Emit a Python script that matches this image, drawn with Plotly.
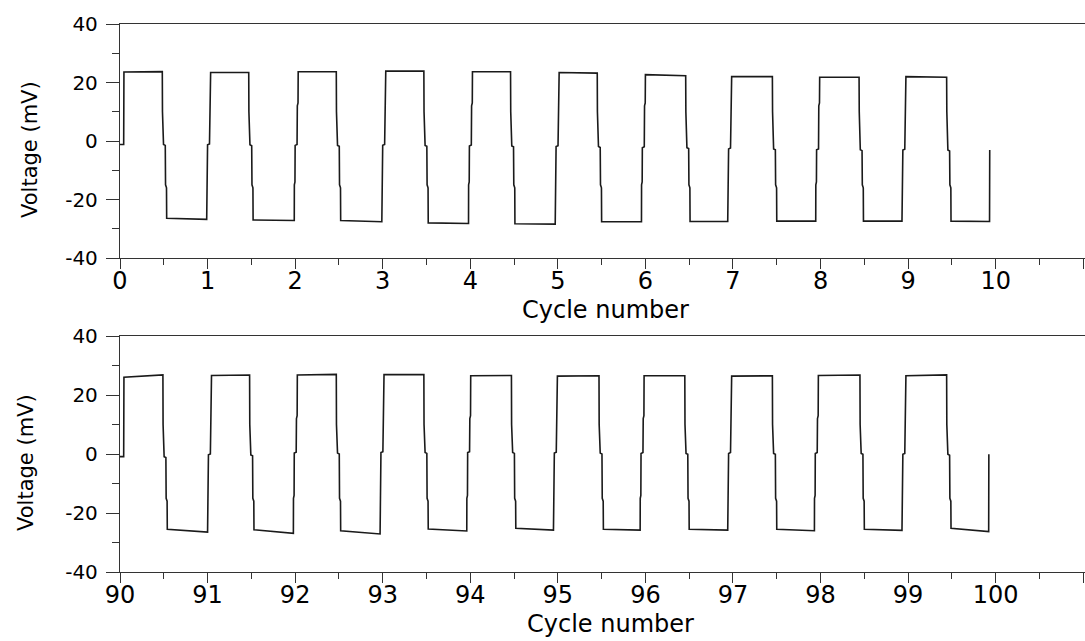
import plotly.graph_objects as go

# ---- top panel: cycles 0-10 ----
top_start = 0.0
top_fall = [0.483, 1.47, 2.47, 3.47, 4.46, 5.45, 6.46, 7.45, 8.44, 9.44]
top_rise = [0.99, 1.99, 2.99, 3.98, 4.97, 5.955, 6.94, 7.945, 8.93, 9.93]
top_high_start = [23.6, 23.4, 23.7, 23.9, 23.7, 23.4, 22.7, 22.0, 21.8, 22.0]
top_high_end = [23.7, 23.4, 23.7, 23.9, 23.7, 23.2, 22.3, 22.0, 21.8, 21.8]
top_low_start = [-26.4, -27.0, -27.2, -28.0, -28.3, -27.6, -27.5, -27.4, -27.4, -27.4]
top_low_end = [-26.8, -27.2, -27.6, -28.2, -28.4, -27.6, -27.5, -27.4, -27.4, -27.5]
top_shelf = [-1.2, -1.3, -1.5, -1.5, -1.7, -1.9, -2.3, -2.7, -3.0, -3.1]

# ---- bottom panel: cycles 90-100 ----
bot_start = 90.0
bot_fall = [90.49, 91.48, 92.47, 93.47, 94.47, 95.47, 96.45, 97.45, 98.45, 99.44]
bot_rise = [91.0, 91.98, 92.97, 93.96, 94.95, 95.94, 96.94, 97.93, 98.93, 99.92]
bot_high_start = [26.0, 26.6, 26.8, 26.9, 26.5, 26.4, 26.5, 26.4, 26.6, 26.5]
bot_high_end = [26.8, 26.8, 27.0, 26.9, 26.6, 26.5, 26.5, 26.5, 26.8, 26.8]
bot_low_start = [-25.5, -25.7, -26.0, -25.4, -25.2, -25.5, -25.5, -25.5, -25.5, -25.2]
bot_low_end = [-26.5, -26.9, -27.1, -26.1, -25.8, -25.8, -25.8, -26.0, -25.9, -26.3]
bot_shelf = [-0.9, -0.3, 0.3, 0.5, 0.5, 0.3, 0.2, 0.2, 0.2, -0.1]

top_ticks = list(range(0, 12))
bot_ticks = list(range(90, 102))
y_ticks = [-40, -20, 0, 20, 40]
y_tick_labels = ["-40", "-20", "0", "20", "40"]


def square_wave(start, fall, rise, hs, he, ls, le, shelf):
    """Polyline of the switching waveform with short shelves at each edge."""
    xs = [start, start + 0.042, start + 0.045]
    ys = [shelf[0], shelf[0], hs[0]]
    n = len(fall)
    for i in range(n):
        f = fall[i]
        k = shelf[i]
        # high plateau end, then falling edge
        xs += [f, f + 0.002, f + 0.014, f + 0.034, f + 0.037, f + 0.048, f + 0.050]
        ys += [he[i], 10, k, k - 0.3, -15, -16, ls[i]]
        r = rise[i]
        xs.append(r)
        ys.append(le[i])
        if i < n - 1:
            k2 = shelf[i + 1]
            xs += [r + 0.001, r + 0.008, r + 0.010, r + 0.032, r + 0.035, r + 0.043, r + 0.045]
            ys += [-15, -14, k2, k2 + 0.3, 12, 13, hs[i + 1]]
        else:
            xs.append(r + 0.002)
            ys.append(shelf[-1])
    return xs, ys


tx, ty = square_wave(top_start, top_fall, top_rise, top_high_start, top_high_end,
                     top_low_start, top_low_end, top_shelf)
bx, by = square_wave(bot_start, bot_fall, bot_rise, bot_high_start, bot_high_end,
                     bot_low_start, bot_low_end, bot_shelf)

W, H = 1085, 641
LINE = "#1a1a1a"
AX = "#333333"
FONT = "DejaVu Sans"

fig = go.Figure()
fig.add_trace(go.Scatter(x=tx, y=ty, mode="lines", line=dict(color=LINE, width=1.6),
                         xaxis="x", yaxis="y", showlegend=False))
fig.add_trace(go.Scatter(x=bx, y=by, mode="lines", line=dict(color=LINE, width=1.6),
                         xaxis="x2", yaxis="y2", showlegend=False))


def xaxis_style(ticks, anchor, rng):
    return dict(
        domain=[120 / W, 1.0], range=rng, anchor=anchor, automargin=False,
        tickmode="array", tickvals=ticks,
        ticktext=[str(t) for t in ticks[:-1]] + [""],
        ticks="outside", ticklen=10, tickwidth=1.3, tickcolor=AX,
        ticklabelstandoff=-9,
        minor=dict(dtick=0.5, ticks="outside", ticklen=6, tickwidth=1.3, tickcolor=AX),
        showline=True, linecolor=AX, linewidth=1.3, mirror=True,
        showgrid=False, zeroline=False,
        tickfont=dict(family=FONT, size=24, color="black"),
    )


def yaxis_style(dom, anchor):
    return dict(
        domain=dom, range=[-40, 40], anchor=anchor, automargin=False,
        tickmode="array", tickvals=y_ticks, ticktext=y_tick_labels,
        ticks="outside", ticklen=13, tickwidth=1.3, tickcolor=AX,
        ticklabelstandoff=4,
        minor=dict(dtick=10, ticks="outside", ticklen=7, tickwidth=1.3, tickcolor=AX),
        showline=True, linecolor=AX, linewidth=1.3, mirror=False,
        showgrid=False, zeroline=False,
        tickfont=dict(family=FONT, size=20, color="black"),
    )


fig.update_layout(
    width=W, height=H,
    margin=dict(l=0, r=0, t=0, b=0, pad=0, autoexpand=False),
    paper_bgcolor="white", plot_bgcolor="white",
    xaxis=xaxis_style(top_ticks, "y", [0, 11.02]),
    yaxis=yaxis_style([1 - 258 / H, 1 - 24 / H], "x"),
    xaxis2=xaxis_style(bot_ticks, "y2", [90, 101.02]),
    yaxis2=yaxis_style([1 - 572 / H, 1 - 336 / H], "x2"),
)

# axis titles
for cx, cy in [(605, 310), (610, 624)]:
    fig.add_annotation(text="Cycle number", x=cx / W, y=1 - cy / H, xref="paper", yref="paper",
                       xanchor="center", yanchor="middle", showarrow=False,
                       font=dict(family=FONT, size=24, color="black"))
for cx, cy in [(30, 150), (26, 463)]:
    fig.add_annotation(text="Voltage (mV)", x=cx / W, y=1 - cy / H, xref="paper", yref="paper",
                       xanchor="center", yanchor="middle", showarrow=False, textangle=-90,
                       font=dict(family=FONT, size=21, color="black"))

fig.write_html("out.html")
